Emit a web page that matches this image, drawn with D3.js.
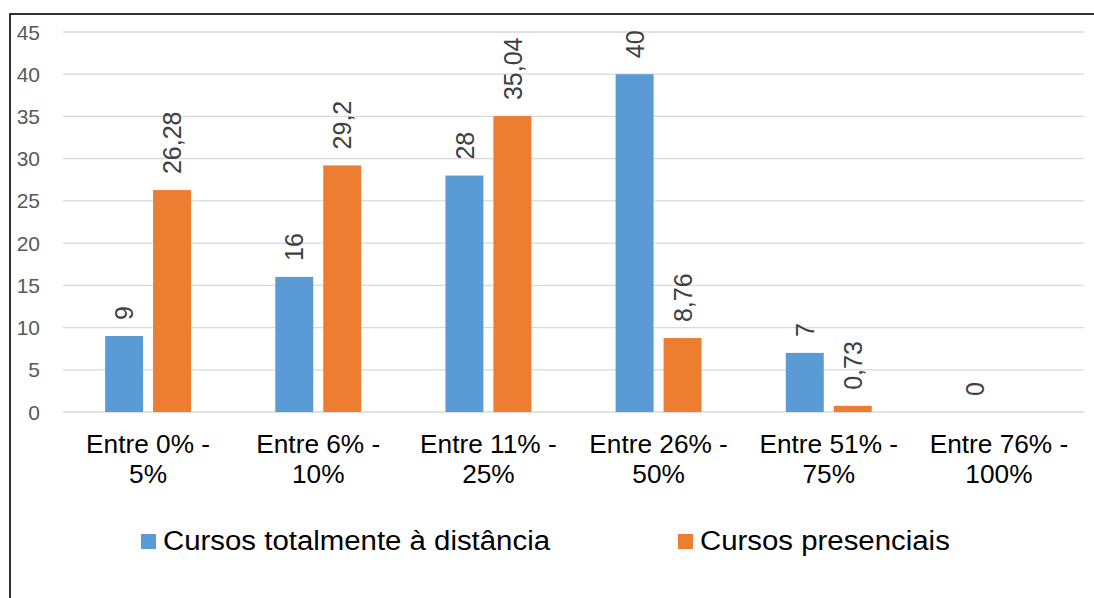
<!DOCTYPE html>
<html><head><meta charset="utf-8">
<script src="https://cdn.jsdelivr.net/npm/d3@7"></script>
<style>body{margin:0;background:#fff}svg{display:block;font-family:"Liberation Sans",Arial,sans-serif}</style>
</head><body>
<svg id="c" width="1094" height="598"></svg>
<script>
const categories = [["Entre 0% -","5%"],["Entre 6% -","10%"],["Entre 11% -","25%"],["Entre 26% -","50%"],["Entre 51% -","75%"],["Entre 76% -","100%"]];
const seriesNames = ["Cursos totalmente à distância","Cursos presenciais"];
const distancia = [9,16,28,40,7,0];
const presenciais = [26.28,29.2,35.04,8.76,0.73,null];
const yTicks = [0,5,10,15,20,25,30,35,40,45];
const colors = ["#5b9bd5","#ed7d31"];

(function(){
const svg = d3.select("#c");
const SX = 1.05;
svg.append("rect").attr("x",10).attr("y",14).attr("width",1100).attr("height",600)
  .attr("fill","none").attr("stroke","#000").attr("stroke-width",1.6);

const pL=63,pR=1084,pT=32,pB=412;
const y = d3.scaleLinear().domain([0,45]).range([pB,pT]);
const catKeys = categories.map((c,i)=>i);
const x0 = d3.scaleBand().domain(catKeys).range([pL,pR]).paddingInner(0.495).paddingOuter(0.2475);
const x1 = d3.scaleBand().domain([0,1]).range([0,x0.bandwidth()]).paddingInner(0.208);

svg.append("g").selectAll("line").data(yTicks).join("line")
  .attr("x1",pL).attr("x2",pR).attr("y1",d=>y(d)).attr("y2",d=>y(d))
  .attr("stroke","#d9d9d9").attr("stroke-width",1.3);

const yAxis = d3.axisLeft(y).tickValues(yTicks).tickSize(0).tickPadding(0);
const ya = svg.append("g").attr("transform","translate(40,0)").call(yAxis);
ya.select(".domain").remove();
ya.selectAll("text").attr("font-size",20).attr("fill","#595959").attr("font-family","Liberation Sans,Arial,sans-serif").attr("dy","0.35em")
  .attr("transform",`scale(${SX},1)`);

const series = [distancia,presenciais];
series.forEach((vals,s)=>{
  const g = svg.append("g");
  const d = vals.map((v,i)=>({v,i})).filter(o=>o.v!==null);
  g.selectAll("rect").data(d).join("rect")
    .attr("x",o=>x0(o.i)+x1(s)).attr("width",x1.bandwidth())
    .attr("y",o=>y(o.v)).attr("height",o=>y(0)-y(o.v)).attr("fill",colors[s]);
  g.selectAll("text").data(d).join("text")
    .attr("transform",o=>`translate(${x0(o.i)+x1(s)+x1.bandwidth()/2},${y(o.v)-16}) scale(${SX},1) rotate(-90)`)
    .attr("text-anchor","start").attr("dy","0.35em")
    .attr("font-size",25).attr("fill","#404040")
    .text(o=>String(o.v).replace(".",","));
});

const xa = svg.append("g");
categories.forEach((lines,i)=>{
  const cx = x0(i)+x0.bandwidth()/2;
  const t = xa.append("text").attr("transform",`translate(${cx},0) scale(${SX},1)`)
    .attr("text-anchor","middle").attr("font-size",25).attr("fill","#000");
  lines.forEach((l,j)=>t.append("tspan").attr("x",0).attr("y",453+j*30).text(l));
});

const legX = [141,678];
seriesNames.forEach((n,s)=>{
  svg.append("rect").attr("x",legX[s]).attr("y",534).attr("width",15).attr("height",15).attr("fill",colors[s]);
  svg.append("text").attr("transform",`translate(${legX[s]+22},550) scale(${SX},1)`).attr("font-size",28).attr("fill","#000").text(n);
});
})();
</script>
</body></html>
